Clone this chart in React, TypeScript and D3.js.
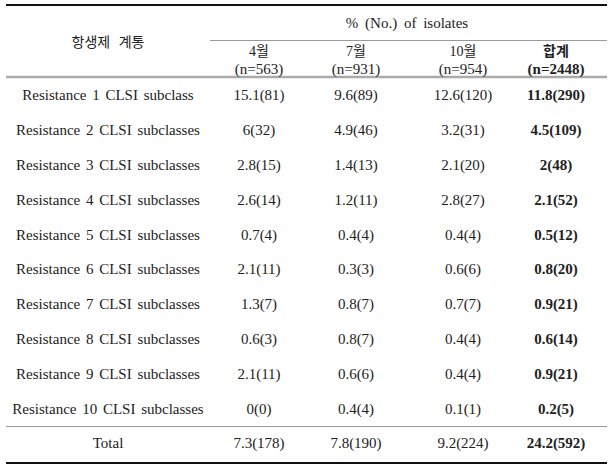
import React from "react";
import * as d3 from "d3";

const rowLabels = [
  "Resistance 1 CLSI subclass",
  "Resistance 2 CLSI subclasses",
  "Resistance 3 CLSI subclasses",
  "Resistance 4 CLSI subclasses",
  "Resistance 5 CLSI subclasses",
  "Resistance 6 CLSI subclasses",
  "Resistance 7 CLSI subclasses",
  "Resistance 8 CLSI subclasses",
  "Resistance 9 CLSI subclasses",
  "Resistance 10 CLSI subclasses",
];
const colMonths = ["4월", "7월", "10월", "합계"];
const colN = ["(n=563)", "(n=931)", "(n=954)", "(n=2448)"];
const aprilValues = ["15.1(81)", "6(32)", "2.8(15)", "2.6(14)", "0.7(4)", "2.1(11)", "1.3(7)", "0.6(3)", "2.1(11)", "0(0)"];
const julyValues = ["9.6(89)", "4.9(46)", "1.4(13)", "1.2(11)", "0.4(4)", "0.3(3)", "0.8(7)", "0.8(7)", "0.6(6)", "0.4(4)"];
const octValues = ["12.6(120)", "3.2(31)", "2.1(20)", "2.8(27)", "0.4(4)", "0.6(6)", "0.7(7)", "0.4(4)", "0.4(4)", "0.1(1)"];
const totalValues = ["11.8(290)", "4.5(109)", "2(48)", "2.1(52)", "0.5(12)", "0.8(20)", "0.9(21)", "0.6(14)", "0.9(21)", "0.2(5)"];
const totalRow = ["7.3(178)", "7.8(190)", "9.2(224)", "24.2(592)"];
const headerLeft = "항생제 계통";
const headerTop = "% (No.) of isolates";
const totalLabel = "Total";

export default function App() {
  const W = 614, H = 471;
  const colKeys = ["label", "c0", "c1", "c2", "c3"];
  const xCenters = [108, 259, 356, 463, 556];
  const x = d3.scaleOrdinal<string, number>().domain(colKeys).range(xCenters);
  const y = d3.scaleLinear().domain([0, 9]).range([95, 409]);
  const columns = [aprilValues, julyValues, octValues, totalValues];
  const font = "'Liberation Serif', 'DejaVu Serif', serif";
  const kfont = "'Liberation Serif', 'Noto Sans CJK KR', serif";
  const color = "#222";
  const L = 6, R = 607;
  return (
    <svg width={W} height={H} style={{ position: "absolute", left: 0, top: 0, background: "#fff" }}>
      <line x1={L} x2={R} y1={5} y2={5} stroke="#111" strokeWidth={2} />
      <line x1={210} x2={R} y1={40.5} y2={40.5} stroke="#999" strokeWidth={1} />
      <line x1={L} x2={R} y1={77} y2={77} stroke="#aaa" strokeWidth={2.5} />
      <line x1={L} x2={R} y1={426.5} y2={426.5} stroke="#999" strokeWidth={1} />
      <line x1={L} x2={R} y1={463} y2={463} stroke="#111" strokeWidth={2} />
      <g fill={color} fontFamily={font} fontSize={15} textAnchor="middle" dominantBaseline="central">
        <text x={x("label")} y={42} fontFamily={kfont} fontSize={14} style={{ wordSpacing: "5px" }}>{headerLeft}</text>
        <text x={407} y={23} style={{ wordSpacing: "3px" }}>{headerTop}</text>
        {colMonths.map((m, i) => (
          <text key={"m" + i} x={x("c" + i)} y={51} fontFamily={kfont} fontSize={14} fontWeight={i === 3 ? "bold" : "normal"}>{m}</text>
        ))}
        {colN.map((n, i) => (
          <text key={"n" + i} x={x("c" + i)} y={69} fontWeight={i === 3 ? "bold" : "normal"}>{n}</text>
        ))}
        {rowLabels.map((r, j) => (
          <text key={"r" + j} x={x("label")} y={y(j)} style={{ wordSpacing: "2px" }}>{r}</text>
        ))}
        {columns.map((col, i) =>
          col.map((v, j) => (
            <text key={"v" + i + "-" + j} x={x("c" + i)} y={y(j)} fontWeight={i === 3 ? "bold" : "normal"}>{v}</text>
          ))
        )}
        <text x={x("label")} y={443}>{totalLabel}</text>
        {totalRow.map((v, i) => (
          <text key={"t" + i} x={x("c" + i)} y={443} fontWeight={i === 3 ? "bold" : "normal"}>{v}</text>
        ))}
      </g>
    </svg>
  );
}
